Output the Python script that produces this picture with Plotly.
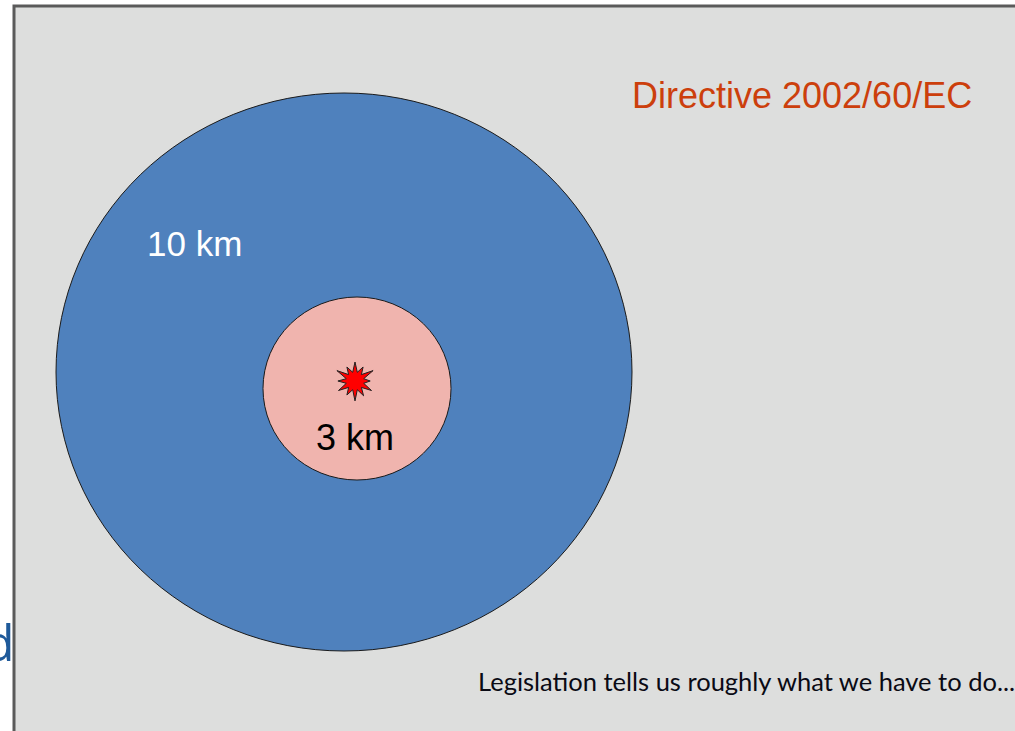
import numpy as np
import plotly.graph_objects as go

W, H = 1015, 731

# ---- data ----
zone_labels = ["10 km", "3 km"]
zone_radius_km = [10, 3]
title_text = "Directive 2002/60/EC"
caption_text = "Legislation tells us roughly what we have to do..."
cut_text = "d"

# ---- drawing styles / geometry (pixels) ----
zone_centers = [(344, 372), (357, 388.5)]
zone_half_w = [288, 94]
zone_half_h = [279, 91.5]
zone_fill = ["#4F81BD", "#F0B4AE"]

fig = go.Figure()

# Slide panel
fig.add_shape(type="rect", x0=14, y0=6, x1=1020, y1=740,
              fillcolor="#DDDEDD", line=dict(color="#5A5A5A", width=3), layer="below")

# Zones (ellipses)
for r, (cx, cy), hw, hh, fc in zip(zone_radius_km, zone_centers, zone_half_w, zone_half_h, zone_fill):
    fig.add_shape(type="circle",
                  x0=cx - hw, x1=cx + hw, y0=cy - hh, y1=cy + hh,
                  fillcolor=fc, line=dict(color="#1A1A1A", width=1))

# Outbreak star (burst)
n = 12
ang = np.linspace(0, 2 * np.pi, 2 * n, endpoint=False) - np.pi / 2
rad = np.where(np.arange(2 * n) % 2 == 0, 19, 9)
rad = rad * np.array([1.0, 1, 0.85, 1, 1.1, 1, 0.8, 1, 1.0, 1, 0.9, 1,
                      1.05, 1, 0.85, 1, 1.0, 1, 0.9, 1, 1.1, 1, 0.85, 1])
sx = 355 + rad * np.cos(ang)
sy = 381 + rad * np.sin(ang)
path = "M " + " L ".join(f"{x:.1f},{y:.1f}" for x, y in zip(sx, sy)) + " Z"
fig.add_shape(type="path", path=path, fillcolor="#FF0000",
              line=dict(color="#222222", width=1))

# Labels
fig.add_annotation(x=194, y=243, text=zone_labels[0], showarrow=False,
                   font=dict(family="Liberation Sans", size=35, color="white"),
                   xanchor="center", yanchor="middle")
fig.add_annotation(x=355, y=437, text=zone_labels[1], showarrow=False,
                   font=dict(family="Liberation Sans", size=36, color="black"),
                   xanchor="center", yanchor="middle")
fig.add_annotation(x=802, y=95, text=title_text, showarrow=False,
                   font=dict(family="Liberation Sans", size=36, color="#CC3F0C"),
                   xanchor="center", yanchor="middle")
fig.add_annotation(x=746, y=681, text=caption_text, showarrow=False,
                   font=dict(family="Lato", size=25.5, color="#0A0A14"),
                   xanchor="center", yanchor="middle")
fig.add_annotation(x=17, y=642, text=cut_text, showarrow=False,
                   font=dict(family="Open Sans", size=50, color="#1F5A9A"),
                   xanchor="right", yanchor="middle")

fig.update_xaxes(range=[0, W], visible=False, fixedrange=True)
fig.update_yaxes(range=[H, 0], visible=False, fixedrange=True)
fig.update_layout(width=W, height=H, margin=dict(l=0, r=0, t=0, b=0),
                  paper_bgcolor="white", plot_bgcolor="white", showlegend=False)

fig.write_html("out.html", config={"displayModeBar": False},
               post_script="document.body.style.margin='0';document.body.style.overflow='hidden';")
